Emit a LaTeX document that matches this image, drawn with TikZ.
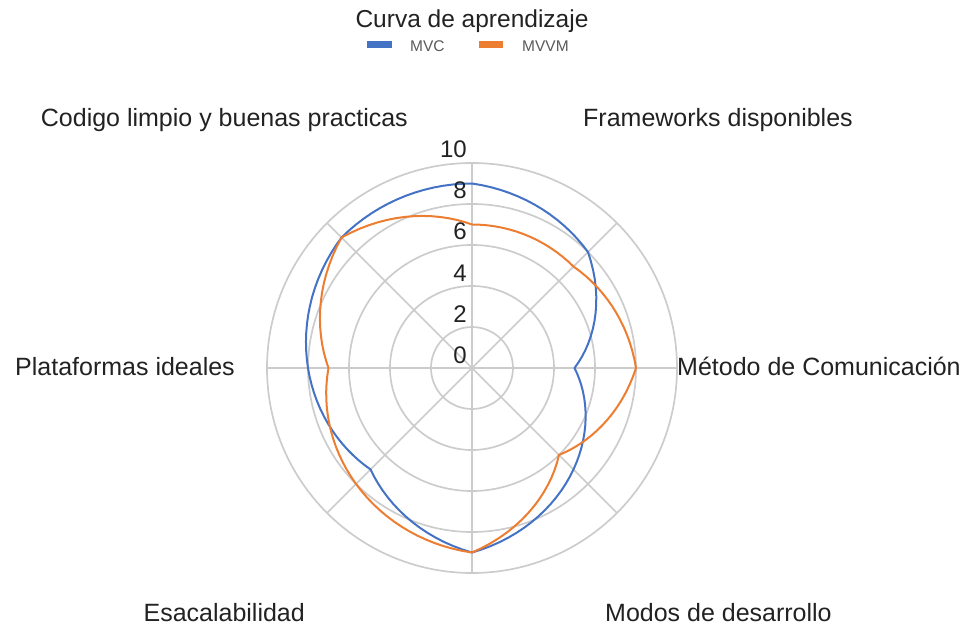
\documentclass[tikz,border=0pt]{standalone}
\usepackage{fontspec}
\setmainfont{Liberation Sans}
\definecolor{mvcblue}{HTML}{4472C4}
\definecolor{mvvmorange}{HTML}{ED7D31}
\definecolor{gridgray}{HTML}{CCCCCC}
\definecolor{labeltext}{HTML}{222222}
\definecolor{legendtext}{HTML}{595959}
\newcommand{\unitr}{20.5}

\begin{document}
\begin{tikzpicture}[x=1pt, y=1pt,
		ring/.style={draw=gridgray, line width=1.7pt},
		mvcline/.style={draw=mvcblue, line width=2pt, line join=round},
		mvvmline/.style={draw=mvvmorange, line width=2pt, line join=round},
		axislabel/.style={font=\fontsize{25}{29}\selectfont, text=labeltext, inner sep=0pt},
		ticklabel/.style={font=\fontsize{24}{29}\selectfont, text=labeltext, inner sep=0pt, anchor=base east},
		legendlabel/.style={font=\fontsize{15.5}{18}\selectfont, text=legendtext, inner sep=0pt, anchor=base west}]
			\useasboundingbox (-472,-259) rectangle (495,368);
			\coordinate (o) at (0,0);
			\foreach \r in {2,4,...,10}
				\draw[ring] (o) circle[radius=\r*\unitr];
			\foreach \a in {0,45,...,315} {
				\coordinate (s\a) at (\a:10*\unitr);
				\draw[ring] (o) -- (s\a);
			}
			% r varies linearly with the angle between two axes
			\draw[mvcline] (90:9*\unitr)
				\foreach \a/\ra/\rb in {90/9/8, 45/8/5, 0/5/7, -45/7/9, -90/9/7, -135/7/8, -180/8/9, -225/9/9}
					{ -- plot[domain=0:45, samples=16] ({\a-\x}:{(\ra+(\rb-\ra)*\x/45)*\unitr}) } -- cycle;
			\draw[mvvmline] (90:7*\unitr)
				\foreach \a/\ra/\rb in {90/7/7, 45/7/8, 0/8/6, -45/6/9, -90/9/8, -135/8/7, -180/7/9, -225/9/7}
					{ -- plot[domain=0:45, samples=16] ({\a-\x}:{(\ra+(\rb-\ra)*\x/45)*\unitr}) } -- cycle;
			\foreach \v in {0,2,...,10}
				\node[ticklabel] (t\v) at (-5,{\v*\unitr+5}) {\v};
			\node[axislabel, anchor=base, font=\fontsize{24.5}{29}\selectfont] (curva) at (0,340) {Curva de aprendizaje};
			\node[axislabel, anchor=base west] (frameworks) at (111,241) {Frameworks disponibles};
			\node[axislabel, anchor=base west] (metodo) at (205,-7) {Método de Comunicación};
			\node[axislabel, anchor=base west] (modos) at (133,-253) {Modos de desarrollo};
			\node[axislabel, anchor=base east] (escala) at (-167,-253) {Esacalabilidad};
			\node[axislabel, anchor=base east] (plataformas) at (-237,-7) {Plataformas ideales};
			\node[axislabel, anchor=base east] (codigo) at (-64,241) {Codigo limpio y buenas practicas};
			\fill[mvcblue] (-105,320) rectangle (-80,327);
			\node[legendlabel] (mvc) at (-62,316.6) {MVC};
			\fill[mvvmorange] (7,320) rectangle (31,327);
			\node[legendlabel] (mvvm) at (50,316.6) {MVVM};
		\end{tikzpicture}
\end{document}
